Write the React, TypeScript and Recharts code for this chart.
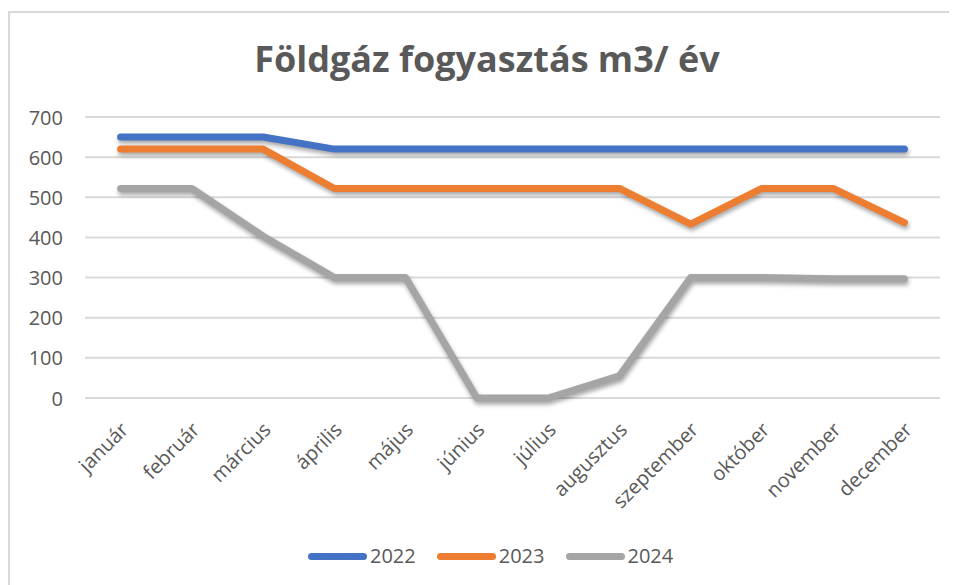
import React from 'react';
import { LineChart, Line, XAxis, YAxis, CartesianGrid } from 'recharts';

const months = ['január', 'február', 'március', 'április', 'május', 'június', 'július', 'augusztus', 'szeptember', 'október', 'november', 'december'];
const values2022 = [650, 650, 650, 620, 620, 620, 620, 620, 620, 620, 620, 620];
const values2023 = [620, 620, 620, 522, 522, 522, 522, 522, 433, 522, 522, 437];
const values2024 = [522, 522, 403, 300, 300, 0, 0, 55, 300, 300, 297, 297];
const yTicks = [0, 100, 200, 300, 400, 500, 600, 700];
const seriesNames = ['2022', '2023', '2024'];
const seriesColors = ['#4472C4', '#ED7D31', '#A5A5A5'];
const title = 'Földgáz fogyasztás m3/ év';

const data = months.map((m, i) => ({
  month: m,
  '2022': values2022[i],
  '2023': values2023[i],
  '2024': values2024[i],
}));

const FONT = '"Open Sans", "DejaVu Sans", sans-serif';
const TEXT = '#595959';

const XTick = (props: any) => {
  const { x, y, payload } = props;
  return (
    <g transform={`translate(${x + 9},${y + 25})`}>
      <text textAnchor="end" transform="rotate(-45)" fill={TEXT} fontSize={20} fontFamily={FONT}>
        {payload.value}
      </text>
    </g>
  );
};

const YTick = (props: any) => {
  const { x, y, payload } = props;
  return (
    <text x={x} y={y} textAnchor="end" dominantBaseline="central" fill={TEXT} fontSize={20} fontFamily={FONT}>
      {payload.value}
    </text>
  );
};

export default function App() {
  return (
    <div
      style={{
        position: 'relative',
        top: 3,
        width: 960,
        height: 580,
        borderLeft: '2px solid #d9d9d9',
        borderTop: '2px solid #d9d9d9',
        background: '#fff',
        fontFamily: FONT,
      }}
    >
      <style>{`.recharts-line-curve { filter: drop-shadow(1px 3px 2px rgba(0,0,0,0.35)); }`}</style>
      <div
        style={{
          position: 'absolute',
          left: 0,
          top: 28,
          width: 954,
          textAlign: 'center',
          fontSize: 36,
          lineHeight: '36px',
          fontWeight: 700,
          color: TEXT,
          fontFamily: FONT,
          whiteSpace: 'nowrap',
        }}
      >
        {title}
      </div>
      <LineChart
        width={947}
        height={572}
        data={data}
        margin={{ top: 104, right: 17, bottom: 87, left: 15 }}
      >
        <CartesianGrid vertical={false} stroke="#d9d9d9" strokeWidth={2} />
        <XAxis
          dataKey="month"
          axisLine={false}
          tickLine={false}
          interval={0}
          height={100}
          padding={{ left: 35.6, right: 35.6 }}
          tick={<XTick />}
        />
        <YAxis
          domain={[0, 700]}
          ticks={yTicks}
          axisLine={false}
          tickLine={false}
          width={60}
          tickMargin={16}
          tick={<YTick />}
        />
        {seriesNames.map((name, i) => (
          <Line
            key={name}
            type="linear"
            dataKey={name}
            stroke={seriesColors[i]}
            strokeWidth={7}
            strokeLinecap="round"
            strokeLinejoin="round"
            dot={false}
            activeDot={false}
            isAnimationActive={false}
          />
        ))}
      </LineChart>
      <div
        style={{
          position: 'absolute',
          left: 298,
          top: 530,
          height: 26,
          display: 'flex',
          alignItems: 'center',
        }}
      >
        {seriesNames.map((name, i) => (
          <div key={name} style={{ display: 'flex', alignItems: 'center', marginRight: 21 }}>
            <div style={{ width: 59, height: 7, borderRadius: 4, background: seriesColors[i] }} />
            <span style={{ marginLeft: 3, fontSize: 20, color: TEXT, fontFamily: FONT, lineHeight: '26px' }}>{name}</span>
          </div>
        ))}
      </div>
    </div>
  );
}
